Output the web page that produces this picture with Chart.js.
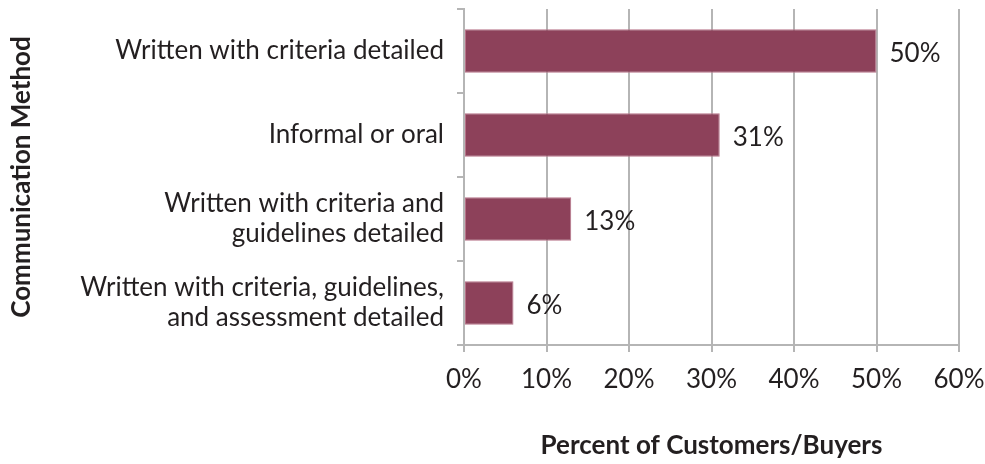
<!DOCTYPE html>
<html>
<head>
<meta charset="utf-8">
<script src="https://cdn.jsdelivr.net/npm/chart.js@4"></script>
<style>
  html, body { margin: 0; padding: 0; background: #ffffff; }
  canvas { display: block; }
</style>
</head>
<body>
<canvas id="chart" width="985" height="464"></canvas>
<script>
// Communication methods (category axis), top to bottom
const methods = [
  ["Written with criteria detailed"],
  ["Informal or oral"],
  ["Written with criteria and", "guidelines detailed"],
  ["Written with criteria, guidelines,", "and assessment detailed"]
];
// Share of customers/buyers, in percent
const percents = [50, 31, 13, 6];
// Value axis ticks
const xTicks = [0, 10, 20, 30, 40, 50, 60];

const FONT = "Lato, 'Open Sans', sans-serif";
const TEXT = "#231f20";
const GRID = "#b5b5b5";
const BAR = "#8d415a";

// Writes each bar's value just past its end
const valueLabels = {
  id: "valueLabels",
  afterDatasetsDraw(chart) {
    const ctx = chart.ctx;
    const meta = chart.getDatasetMeta(0);
    ctx.save();
    ctx.font = "26px " + FONT;
    ctx.fillStyle = TEXT;
    ctx.textAlign = "left";
    ctx.textBaseline = "middle";
    meta.data.forEach((bar, i) => {
      ctx.fillText(percents[i] + "%", bar.x + 13, bar.y + 3);
    });
    ctx.restore();
  }
};

new Chart(document.getElementById("chart"), {
  type: "bar",
  data: {
    labels: methods,
    datasets: [{
      data: percents,
      backgroundColor: BAR,
      borderColor: "#b77389",
      borderWidth: 1,
      borderSkipped: false,
      categoryPercentage: 1,
      barPercentage: 0.52
    }]
  },
  options: {
    indexAxis: "y",
    responsive: false,
    animation: false,
    layout: { padding: { top: 9, right: 26, bottom: 0, left: 0 } },
    plugins: { legend: { display: false }, tooltip: { enabled: false } },
    scales: {
      x: {
        min: 0, max: 60,
        afterBuildTicks(axis) { axis.ticks = xTicks.map(v => ({ value: v })); },
        afterFit(axis) {
          axis.height = 464 - 345;
          axis.paddingLeft = 0;
          axis.paddingRight = 0;
        },
        grid: { color: GRID, lineWidth: 2, tickLength: 7, tickColor: GRID },
        border: { color: GRID, width: 2 },
        ticks: {
          color: TEXT,
          font: { family: FONT, size: 26 },
          padding: 12,
          callback: v => v + "%"
        },
        title: {
          display: true,
          text: "Percent of Customers/Buyers",
          color: TEXT,
          font: { family: FONT, size: 26, weight: "bold" },
          padding: { top: 0, bottom: 3 }
        }
      },
      y: {
        afterFit(axis) {
          axis.width = 464;
          axis.paddingTop = 0;
          axis.paddingBottom = 0;
        },
        grid: { drawOnChartArea: false, color: GRID, lineWidth: 2, tickLength: 7, tickColor: GRID, offset: true },
        border: { color: GRID, width: 2 },
        ticks: {
          color: TEXT,
          font: { family: FONT, size: 26, lineHeight: 1.15 },
          padding: 13
        },
        title: {
          display: true,
          text: "Communication Method",
          color: TEXT,
          font: { family: FONT, size: 26, weight: "bold" },
          padding: { top: 6, bottom: 0 }
        }
      }
    }
  },
  plugins: [valueLabels]
});
</script>
</body>
</html>
